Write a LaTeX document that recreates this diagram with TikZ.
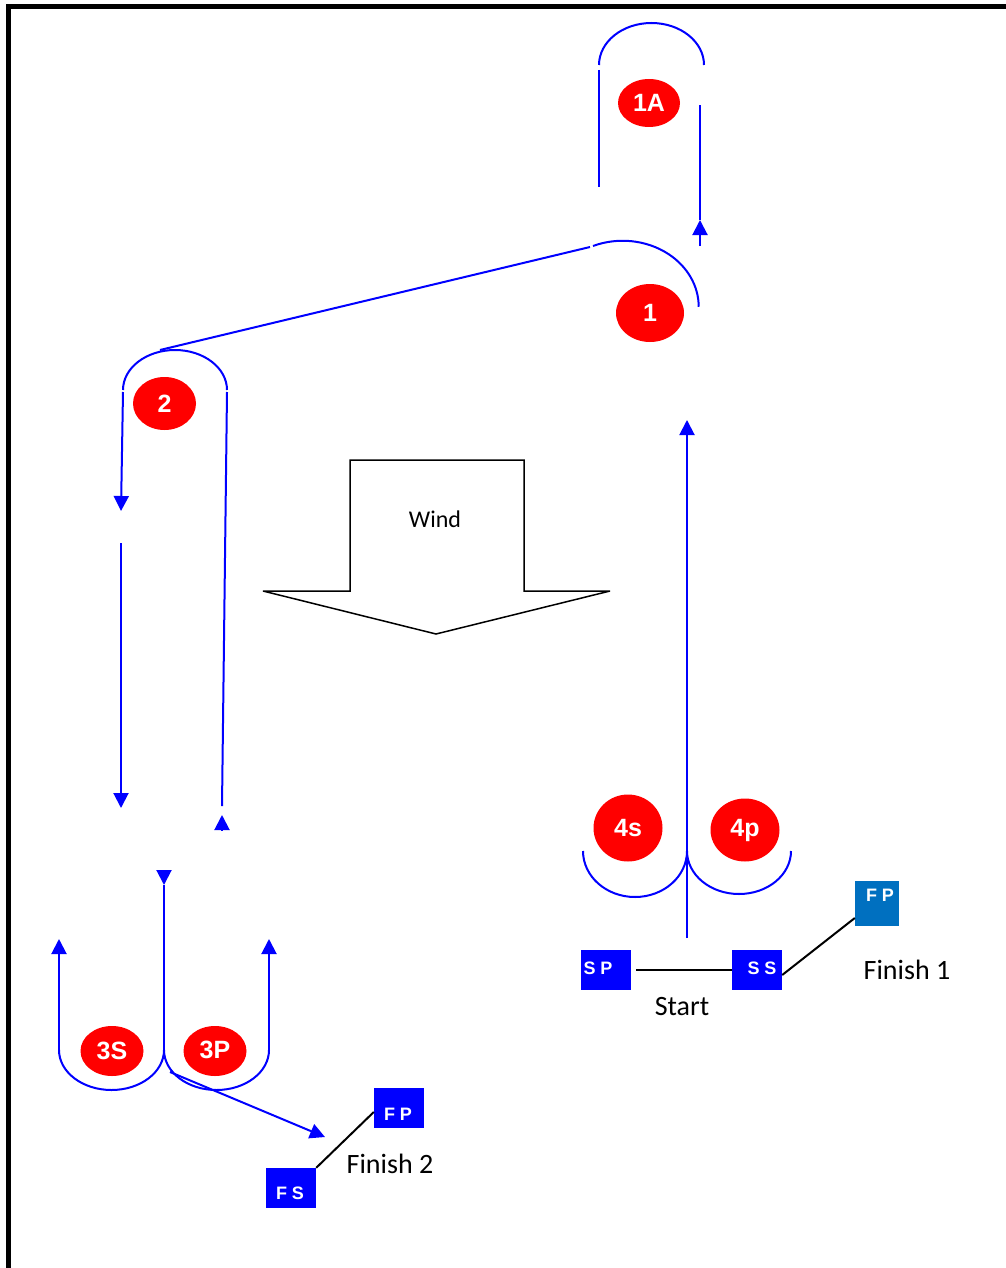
\documentclass[tikz,border=0pt]{standalone}
\usepackage{fontspec}
\setmainfont{Carlito}
\newfontfamily\markfont{Liberation Sans}
\usetikzlibrary{positioning, shapes.geometric, arrows.meta}
\definecolor{markred}{RGB}{255,0,0}
\definecolor{courseblue}{RGB}{0,0,255}
\definecolor{finishblue}{RGB}{0,112,192}

\begin{document}
\begin{tikzpicture}[x=1pt, y=-1pt]
    \tikzstyle{racemark} = [ellipse, fill=markred, inner sep=0pt, minimum width=63pt, minimum height=50pt, text=white, font=\markfont\bfseries\fontsize{25}{25}\selectfont]
    \tikzstyle{course} = [draw=courseblue, line width=2pt]
    \tikzstyle{arrow} = [course, -{Triangle[length=15pt, width=15pt]}]
    \tikzstyle{boat} = [rectangle, fill=courseblue, minimum width=50pt, minimum height=40pt, inner sep=0pt]
    \tikzstyle{boatlbl} = [text=white, inner sep=0pt, font=\markfont\bfseries\fontsize{18}{18}\selectfont]
    \tikzstyle{caption} = [inner sep=0pt, font=\fontsize{28}{28}\selectfont]
    \tikzstyle{lineline} = [draw=black, line width=2pt]

    \useasboundingbox (0,0) rectangle (1005,1268);
    \draw[line width=5pt] (8.5,7) rectangle (1020,1270.5);

    \node (m1a) [racemark, minimum width=62pt, minimum height=48pt] at (649,103) {1A};
    \node (m1) [racemark, minimum width=68pt, minimum height=58pt] at (650,313) {1};
    \node (m2) [racemark, minimum width=63pt, minimum height=53pt] at (164.5,403.5) {2};
    \node (m3s) [racemark] at (112,1051) {\raisebox{-3pt}{3S}\hspace{10pt}};
    \node (m3p) [racemark] at (215,1051) {\raisebox{3pt}{3P}\hspace{10pt}};
    \node (m4s) [racemark, minimum width=69pt, minimum height=67pt] at (628,828) {4s};
    \node (m4p) [racemark, minimum width=69pt, minimum height=63pt] at (745,830) {4p};

    \draw[line width=1.5pt, miter limit=2] (350,591) -- (350,460) -- (524,460) -- (524,591) -- (610,591) -- (436,634) -- (263,591) -- cycle;
    \node (wind) [inner sep=0pt, font=\fontsize{24}{24}\selectfont] at (435,519) {Wind};

    \draw[course] (599,65) arc[start angle=180, end angle=360, x radius=52.5, y radius=42];
    \draw[course] (599,70) -- (599,187);
    \draw[arrow] (700,246) -- (700,220);
    \draw[course] (700,220) -- (700,105);

    \draw[course] (593,246) arc[start angle=247, end angle=360, x radius=76, y radius=66];
    \draw[course] (160,350) -- (590,247);

    \draw[course] (123,390) arc[start angle=180, end angle=360, x radius=52, y radius=40];
    \draw[arrow] (123,392) -- (121,511);
    \draw[arrow] (121,543) -- (121,808);
    \draw[course] (227,392) -- (222,806);
    \draw[arrow] (222,830) -- (222,815);

    \draw[arrow] (164,870) -- (164,885);
    \draw[course] (164,885) -- (164,1050);
    \draw[course] (164,1050) arc[start angle=0, end angle=180, x radius=52.5, y radius=40];
    \draw[course] (164,1050) arc[start angle=180, end angle=0, x radius=52.5, y radius=40];
    \draw[arrow] (59,1050) -- (59,939);
    \draw[arrow] (269,1050) -- (269,939);
    \draw[arrow] (170,1072) -- (325,1137);

    \draw[course] (583,851) arc[start angle=180, end angle=0, x radius=52, y radius=46];
    \draw[course] (687,851) arc[start angle=180, end angle=0, x radius=52, y radius=43];
    \draw[arrow] (687,938) -- (687,420);

    \node (sp) [boat] at (606,970) {};
    \node (ss) [boat] at (757,970) {};
    \node (fp1) [boat, fill=finishblue, minimum width=44pt, minimum height=45pt] at (877,903.5) {};
    \node (fp2) [boat] at (399,1108) {};
    \node (fs) [boat] at (291,1188) {};
    \node (splbl) [boatlbl] at (598,968) {S P};
    \node (sslbl) [boatlbl] at (762,968) {S S};
    \node (fp1lbl) [boatlbl] at (880,895) {F P};
    \node (fp2lbl) [boatlbl] at (398,1114) {F P};
    \node (fslbl) [boatlbl] at (290,1193) {F S};

    \draw [lineline] ([xshift=5pt]sp.east) -- (ss.west);
    \draw [lineline] ([yshift=-5pt]ss.east) -- ([yshift=-14.5pt]fp1.west);
    \draw [lineline] (fs.north east) -- ([yshift=-4pt]fp2.west);

    \node (start) [caption] at (682,1007) {Start};
    \node (finish1) [caption] at (907,970) {Finish 1};
    \node (finish2) [caption] at (390,1164) {Finish 2};
\end{tikzpicture}
\end{document}
